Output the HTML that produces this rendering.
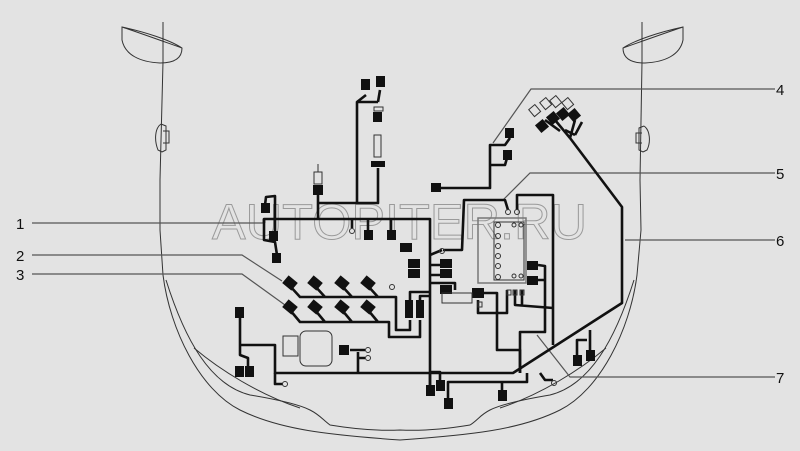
<!DOCTYPE html>
<html><head><meta charset="utf-8"><style>
html,body{margin:0;padding:0;background:#e3e3e3;}
svg{display:block;}
</style></head><body>
<svg width="800" height="451" viewBox="0 0 800 451" xmlns="http://www.w3.org/2000/svg">
<rect width="800" height="451" fill="#e3e3e3"/>
<g fill="none" stroke="#333" stroke-width="1">
  <path d="M163 22 L163 62 M163 62 L160 180 L160 230 L163 275 C170 330 200 390 240 410 C280 430 330 435 400 440 C470 435 520 430 560 410 C600 390 630 330 637 275 L641 230 L640 180 L642 62 M642 62 L642 22"/>
  <path d="M166 280 C185 340 210 385 250 395 C280 400 300 405 310 410 C320 415 323 420 330 425 C360 430 380 431 400 430 C420 431 440 430 470 425 C478 420 480 415 490 410 C500 405 520 400 550 395 C590 385 615 340 634 280"/>
  <path d="M194 348 C220 370 260 395 300 408" />
  <path d="M606 348 C580 370 540 395 500 408" />
  <path d="M122 27 C145 32 170 40 182 48 C182 58 175 63 160 63 C140 62 125 55 122 40 Z M122 27 C140 33 165 42 182 48"/>
  <path d="M683 27 C660 32 635 40 623 48 C623 58 630 63 645 63 C665 62 680 55 683 40 Z M683 27 C665 33 640 42 623 48"/>
  <path d="M161 124 C155 128 154 140 158 150 L162 152 M161 124 L166 126 L166 150 L162 152 M163 131 L169 131 L169 143 L163 143"/>
  <path d="M644 126 C650 130 651 142 647 150 L643 152 M644 126 L639 128 L639 150 L643 152 M642 133 L636 133 L636 143 L642 143"/>
</g>
<text x="212" y="239" font-family="Liberation Sans, sans-serif" font-size="50" fill="none" stroke="#9a9a9a" stroke-width="1" textLength="375" lengthAdjust="spacingAndGlyphs">AUTOPITER.RU</text>
<g fill="none" stroke="#555" stroke-width="1.2">
  <path d="M32 223 L264 223"/>
  <path d="M32 255 L242 255 L282 281"/>
  <path d="M32 274 L242 274 L285 305"/>
  <path d="M775 89 L531 89 L493 143"/>
  <path d="M775 173 L530 173 L503 200"/>
  <path d="M775 240 L625 240"/>
  <path d="M775 377 L570 377 L537 335"/>
</g>
<g font-family="Liberation Sans, sans-serif" font-size="15" fill="#111">
  <text x="16" y="229">1</text><text x="16" y="261">2</text><text x="16" y="280">3</text>
  <text x="776" y="95">4</text><text x="776" y="179">5</text><text x="776" y="246">6</text><text x="776" y="383">7</text>
</g>
<g fill="none" stroke="#111" stroke-width="2.6" stroke-linejoin="round">
  <path d="M264 223 L264 219 L430 219 L430 392"/>
  <path d="M264 219 L264 240 L275 242 L277 255"/>
  <path d="M265 205 L266 197 L275 196 L275 232"/>
  <path d="M318 195 L318 219 M318 203 L378 203 L378 168 M357 203 L357 102 L378 102 M357 102 L366 95 M378 102 L380 90"/>
  <path d="M352 219 L352 228 M368 219 L368 232 M391 219 L391 232"/>
  <path d="M290 286 L300 297 L396 297 L396 330 L410 330 L410 320 M315 286 L325 297 M342 286 L352 297 M368 286 L378 297"/>
  <path d="M290 310 L300 322 L389 322 L389 337 L420 337 L420 320 M315 310 L325 322 M342 310 L352 322 M368 310 L378 322"/>
  <path d="M410 300 L410 292 L430 292 M420 300 L420 296 L430 296"/>
  <path d="M240 318 L240 355 L248 358 L248 372 M240 345 L275 345 L275 373 L513 373 L622 303 L622 207 L570 138"/>
  <path d="M275 373 L275 384 L283 384 M358 352 L358 373 M350 350 L358 350 L365 350 M358 358 L365 358"/>
  <path d="M430 255 L442 250 M430 265 L445 265 M430 275 L445 275 M430 283 L455 283 L455 290"/>
  <path d="M436 188 L490 188 L490 145 L505 145 L510 138 M490 165 L505 165 L507 158"/>
  <path d="M443 250 L462 250 L464 200 L505 200 L508 210 M517 210 L517 195 L553 195 L553 345"/>
  <path d="M538 265 L545 266 L545 332 L520 332 L520 373 M538 280 L545 280"/>
  <path d="M484 293 L497 293 L497 350 L520 350 L520 373 M478 300 L478 313 L507 313 L507 290"/>
  <path d="M515 290 L515 305 L553 308 M522 290 L522 305"/>
  <path d="M527 373 L527 382 L448 382 L448 400 M502 382 L502 395 M540 373 L545 380 L553 380"/>
  <path d="M430 372 L440 372 L440 385 M430 372 L430 390"/>
  <path d="M590 330 L590 352 M587 340 L577 340 L577 356"/>
  <path d="M570 138 L555 120 M570 138 L575 120 M560 131 L545 120 M575 135 L565 130 M575 135 L582 122"/>
</g>
<g fill="#111">
  <rect x="361" y="79" width="9" height="11"/><rect x="376" y="76" width="9" height="11"/>
  <rect x="373" y="112" width="9" height="10"/><rect x="371" y="161" width="14" height="6"/>
  <rect x="313" y="185" width="10" height="10"/>
  <rect x="261" y="203" width="9" height="10"/><rect x="269" y="231" width="9" height="10"/><rect x="272" y="253" width="9" height="10"/>
  <rect x="364" y="230" width="9" height="10"/><rect x="387" y="230" width="9" height="10"/>
  <rect x="235" y="307" width="9" height="11"/><rect x="235" y="366" width="9" height="11"/><rect x="245" y="366" width="9" height="11"/>
  <rect x="339" y="345" width="10" height="10"/>
  <rect x="400" y="243" width="12" height="9"/>
  <rect x="408" y="259" width="12" height="9"/><rect x="408" y="269" width="12" height="9"/>
  <rect x="440" y="259" width="12" height="9"/><rect x="440" y="269" width="12" height="9"/>
  <rect x="440" y="285" width="12" height="9"/>
  <rect x="405" y="300" width="8" height="18"/><rect x="416" y="300" width="8" height="18"/>
  <rect x="431" y="183" width="10" height="9"/>
  <rect x="505" y="128" width="9" height="10"/><rect x="503" y="150" width="9" height="10"/>
  <rect x="527" y="261" width="11" height="9"/><rect x="527" y="276" width="11" height="9"/>
  <rect x="472" y="288" width="12" height="10"/>
  <rect x="426" y="385" width="9" height="11"/><rect x="436" y="380" width="9" height="11"/>
  <rect x="444" y="398" width="9" height="11"/><rect x="498" y="390" width="9" height="11"/>
  <rect x="573" y="355" width="9" height="11"/><rect x="586" y="350" width="9" height="11"/>
  <g transform="translate(290,283) rotate(40)"><rect x="-6" y="-5" width="12" height="10"/></g>
  <g transform="translate(315,283) rotate(40)"><rect x="-6" y="-5" width="12" height="10"/></g>
  <g transform="translate(342,283) rotate(40)"><rect x="-6" y="-5" width="12" height="10"/></g>
  <g transform="translate(368,283) rotate(40)"><rect x="-6" y="-5" width="12" height="10"/></g>
  <g transform="translate(290,307) rotate(40)"><rect x="-6" y="-5" width="12" height="10"/></g>
  <g transform="translate(315,307) rotate(40)"><rect x="-6" y="-5" width="12" height="10"/></g>
  <g transform="translate(342,307) rotate(40)"><rect x="-6" y="-5" width="12" height="10"/></g>
  <g transform="translate(368,307) rotate(40)"><rect x="-6" y="-5" width="12" height="10"/></g>
  <g transform="translate(542,126) rotate(-40)"><rect x="-5" y="-5" width="10" height="10"/></g>
  <g transform="translate(553,118) rotate(-40)"><rect x="-5" y="-5" width="10" height="10"/></g>
  <g transform="translate(563,114) rotate(-40)"><rect x="-5" y="-5" width="10" height="10"/></g>
  <g transform="translate(574,115) rotate(-40)"><rect x="-5" y="-5" width="10" height="10"/></g>
</g>
<g fill="none" stroke="#333" stroke-width="1">
  <rect x="374" y="107" width="9" height="4"/>
  <rect x="374" y="135" width="7" height="22"/>
  <rect x="314" y="172" width="8" height="12"/><path d="M318 172 L318 164"/>
  <circle cx="352" cy="231" r="2.5"/><circle cx="392" cy="287" r="2.5"/>
  <circle cx="285" cy="384" r="2.5"/><circle cx="368" cy="350" r="2.5"/><circle cx="368" cy="358" r="2.5"/>
  <circle cx="442" cy="251" r="2.5"/>
  <circle cx="508" cy="212" r="2.5"/><circle cx="517" cy="212" r="2.5"/>
  <circle cx="554" cy="383" r="2.5"/>
  <rect x="300" y="331" width="32" height="35" rx="6"/><rect x="283" y="336" width="15" height="20"/>
  <rect x="478" y="218" width="48" height="65" stroke="#777" stroke-width="1.5"/>
  <rect x="494" y="222" width="30" height="58"/>
  <circle cx="498" cy="225" r="2.5"/><circle cx="498" cy="236" r="2.5"/><circle cx="498" cy="246" r="2.5"/><circle cx="498" cy="256" r="2.5"/><circle cx="498" cy="266" r="2.5"/><circle cx="498" cy="277" r="2.5"/>
  <circle cx="514" cy="225" r="2"/><circle cx="521" cy="225" r="2"/><circle cx="514" cy="276" r="2"/><circle cx="521" cy="276" r="2"/>
  <rect x="442" y="293" width="30" height="10"/><rect x="478" y="302" width="4" height="5"/>
  <rect x="507" y="290" width="4" height="5"/><rect x="513" y="290" width="4" height="5"/><rect x="520" y="290" width="4" height="5"/>
  <g transform="translate(535,111) rotate(-40)"><rect x="-4" y="-5" width="8" height="9"/></g>
  <g transform="translate(546,104) rotate(-40)"><rect x="-4" y="-5" width="8" height="9"/></g>
  <g transform="translate(556,102) rotate(-40)"><rect x="-4" y="-5" width="8" height="9"/></g>
  <g transform="translate(568,104) rotate(-40)"><rect x="-4" y="-5" width="8" height="9"/></g>
</g>
</svg>
</body></html>
